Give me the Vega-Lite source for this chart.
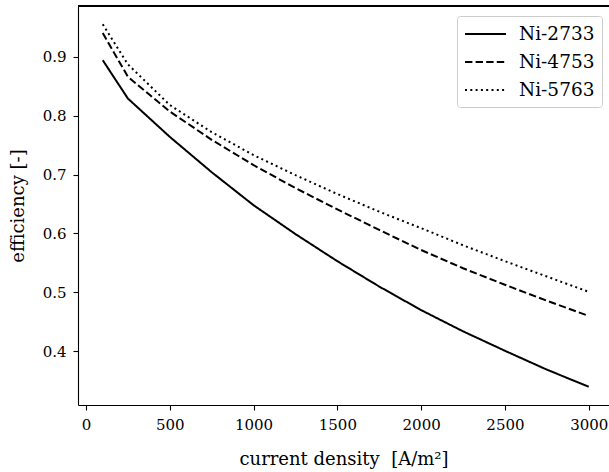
{
  "$schema": "https://vega.github.io/schema/vega-lite/v6.json",
  "width": 531,
  "height": 399,
  "autosize": {"type": "none"},
  "padding": {"left": 78, "top": 6, "right": 0, "bottom": 67},
  "background": "white",
  "config": {
    "view": {"stroke": null},
    "font": "DejaVu Serif",
    "axis": {
      "grid": false,
      "domainColor": "#000000",
      "domainWidth": 1.1,
      "tickColor": "#000000",
      "tickWidth": 1.1,
      "tickSize": 5,
      "labelFont": "DejaVu Serif",
      "labelFontSize": 15,
      "labelColor": "#000000",
      "titleFont": "DejaVu Serif",
      "titleFontSize": 18,
      "titleFontWeight": "normal",
      "titleColor": "#000000"
    }
  },
  "data": {
    "values": [
      {"current_density": 100, "efficiency": 0.894, "series": "Ni-2733"},
      {"current_density": 250, "efficiency": 0.829, "series": "Ni-2733"},
      {"current_density": 500, "efficiency": 0.764, "series": "Ni-2733"},
      {"current_density": 750, "efficiency": 0.704, "series": "Ni-2733"},
      {"current_density": 1000, "efficiency": 0.648, "series": "Ni-2733"},
      {"current_density": 1250, "efficiency": 0.599, "series": "Ni-2733"},
      {"current_density": 1500, "efficiency": 0.553, "series": "Ni-2733"},
      {"current_density": 1750, "efficiency": 0.510, "series": "Ni-2733"},
      {"current_density": 2000, "efficiency": 0.470, "series": "Ni-2733"},
      {"current_density": 2250, "efficiency": 0.434, "series": "Ni-2733"},
      {"current_density": 2500, "efficiency": 0.401, "series": "Ni-2733"},
      {"current_density": 2750, "efficiency": 0.369, "series": "Ni-2733"},
      {"current_density": 3000, "efficiency": 0.340, "series": "Ni-2733"},
      {"current_density": 100, "efficiency": 0.940, "series": "Ni-4753"},
      {"current_density": 250, "efficiency": 0.866, "series": "Ni-4753"},
      {"current_density": 500, "efficiency": 0.807, "series": "Ni-4753"},
      {"current_density": 750, "efficiency": 0.759, "series": "Ni-4753"},
      {"current_density": 1000, "efficiency": 0.716, "series": "Ni-4753"},
      {"current_density": 1250, "efficiency": 0.677, "series": "Ni-4753"},
      {"current_density": 1500, "efficiency": 0.641, "series": "Ni-4753"},
      {"current_density": 1750, "efficiency": 0.606, "series": "Ni-4753"},
      {"current_density": 2000, "efficiency": 0.572, "series": "Ni-4753"},
      {"current_density": 2250, "efficiency": 0.541, "series": "Ni-4753"},
      {"current_density": 2500, "efficiency": 0.513, "series": "Ni-4753"},
      {"current_density": 2750, "efficiency": 0.486, "series": "Ni-4753"},
      {"current_density": 3000, "efficiency": 0.460, "series": "Ni-4753"},
      {"current_density": 100, "efficiency": 0.955, "series": "Ni-5763"},
      {"current_density": 250, "efficiency": 0.887, "series": "Ni-5763"},
      {"current_density": 500, "efficiency": 0.818, "series": "Ni-5763"},
      {"current_density": 750, "efficiency": 0.772, "series": "Ni-5763"},
      {"current_density": 1000, "efficiency": 0.733, "series": "Ni-5763"},
      {"current_density": 1250, "efficiency": 0.699, "series": "Ni-5763"},
      {"current_density": 1500, "efficiency": 0.667, "series": "Ni-5763"},
      {"current_density": 1750, "efficiency": 0.637, "series": "Ni-5763"},
      {"current_density": 2000, "efficiency": 0.609, "series": "Ni-5763"},
      {"current_density": 2250, "efficiency": 0.580, "series": "Ni-5763"},
      {"current_density": 2500, "efficiency": 0.553, "series": "Ni-5763"},
      {"current_density": 2750, "efficiency": 0.527, "series": "Ni-5763"},
      {"current_density": 3000, "efficiency": 0.501, "series": "Ni-5763"}
    ]
  },
  "layer": [
    {
      "mark": {"type": "line", "strokeWidth": 2, "color": "#000000", "clip": true},
      "encoding": {
        "x": {
          "field": "current_density",
          "type": "quantitative",
          "scale": {"domain": [-47.7, 3121], "nice": false, "zero": false},
          "axis": {
            "values": [0, 500, 1000, 1500, 2000, 2500, 3000],
            "format": "d",
            "labelPadding": 7,
            "title": "current density \u00a0[A/m²]",
            "titlePadding": 18
          }
        },
        "y": {
          "field": "efficiency",
          "type": "quantitative",
          "scale": {"domain": [0.309, 0.986], "nice": false, "zero": false},
          "axis": {
            "values": [0.4, 0.5, 0.6, 0.7, 0.8, 0.9],
            "format": ".1f",
            "labelPadding": 7,
            "title": "efficiency [-]",
            "titlePadding": 15
          }
        },
        "strokeDash": {
          "field": "series",
          "type": "nominal",
          "scale": {
            "domain": ["Ni-2733", "Ni-4753", "Ni-5763"],
            "range": [[1, 0], [7.4, 3.2], [2, 3.3]]
          },
          "legend": {
            "orient": "none",
            "legendX": 379,
            "legendY": 10,
            "title": null,
            "symbolType": "M-2.05,0H2.05",
            "symbolSize": 400,
            "symbolStrokeWidth": 2,
            "symbolStrokeColor": "#000000",
            "symbolOffset": 10.5,
            "labelFont": "DejaVu Serif",
            "labelFontSize": 18.5,
            "labelColor": "#000000",
            "labelOffset": 22.5,
            "rowPadding": 7,
            "padding": 7,
            "fillColor": "#ffffff",
            "strokeColor": "#cccccc",
            "cornerRadius": 3
          }
        }
      }
    },
    {
      "mark": {"type": "rule", "color": "#000000", "strokeWidth": 1.1},
      "encoding": {"y": {"datum": 0.986}}
    }
  ]
}
